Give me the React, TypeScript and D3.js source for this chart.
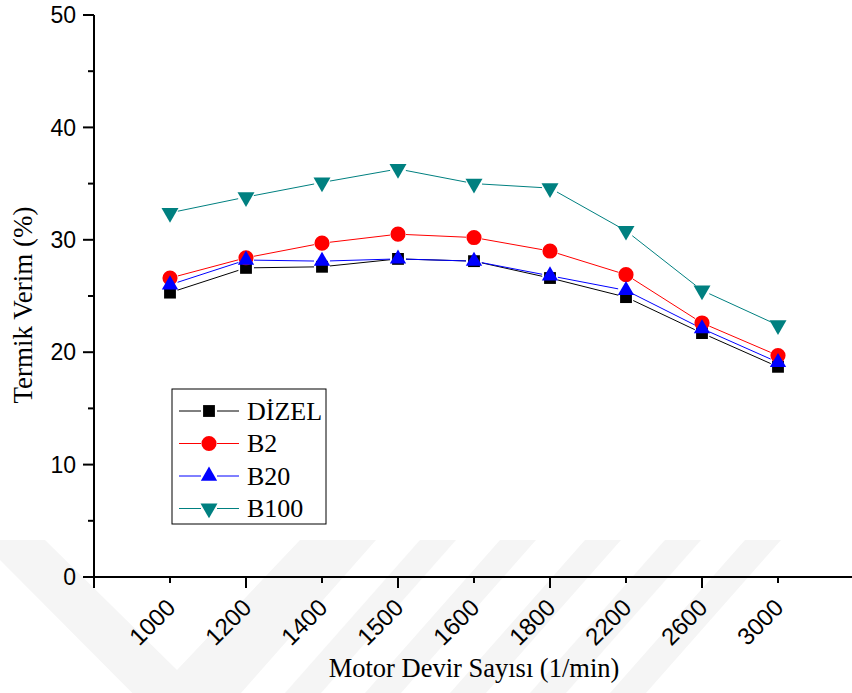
import React from "react";
import { scaleLinear, symbol, symbolSquare, symbolCircle, symbolTriangle, range } from "d3";

// engine speeds (x categories) and thermal efficiency (%) per fuel
const categories = ["1000", "1200", "1400", "1500", "1600", "1800", "2200", "2600", "3000"];
const dizel = [25.3, 27.5, 27.6, 28.3, 28.1, 26.6, 24.9, 21.7, 18.7];
const b2 = [26.6, 28.4, 29.7, 30.5, 30.2, 29.0, 26.9, 22.6, 19.7];
const b20 = [26.0, 28.2, 28.1, 28.3, 28.1, 26.8, 25.5, 22.1, 19.1];
const b100 = [32.4, 33.8, 35.1, 36.3, 35.0, 34.6, 30.8, 25.5, 22.4];
const yTicks = [0, 10, 20, 30, 40, 50];

const seriesNames = ["DİZEL", "B2", "B20", "B100"];
const seriesValues = [dizel, b2, b20, b100];
const seriesColors = ["#000000", "#ff0000", "#0000ff", "#008080"];

const width = 852,
  height = 693;
const serif = "'Liberation Serif', 'Times New Roman', serif";
const sans = "'Liberation Sans', Arial, sans-serif";

// symbol generator per series
const markers = [
  { type: symbolSquare, size: 140, rotate: 0 },
  { type: symbolCircle, size: 180, rotate: 0 },
  { type: symbolTriangle, size: 115, rotate: 0 },
  { type: symbolTriangle, size: 125, rotate: 180 }
];

function Marker({ i, x, y }: { i: number; x: number; y: number }) {
  const m = markers[i];
  const d = symbol(m.type, m.size)() || "";
  return (
    <path
      d={d}
      fill={seriesColors[i]}
      transform={`translate(${x},${y}) rotate(${m.rotate})`}
    />
  );
}

// line with small gaps at the markers, like Origin draws it
function gappedSegments(pts: [number, number][], gap: number) {
  const segs: [number, number, number, number][] = [];
  for (let k = 0; k < pts.length - 1; k++) {
    const [x1, y1] = pts[k];
    const [x2, y2] = pts[k + 1];
    const len = Math.hypot(x2 - x1, y2 - y1);
    if (len <= gap * 2) continue;
    const ux = (x2 - x1) / len,
      uy = (y2 - y1) / len;
    segs.push([x1 + ux * gap, y1 + uy * gap, x2 - ux * gap, y2 - uy * gap]);
  }
  return segs;
}

function Watermark() {
  const fill = "#f5f5f5";
  const stripes = [340, 420, 500, 585, 665, 745];
  return (
    <g>
      <polygon
        points="0,540 45,540 177,670 300,540 350,540 177,738 0,560"
        fill={fill}
      />
      {stripes.map(s => (
        <polygon
          key={s}
          points={`${s},540 ${s + 36},540 ${s + 36 - 135},693 ${s - 135},693`}
          fill={fill}
        />
      ))}
    </g>
  );
}

export default function App() {
  const x = scaleLinear().domain([0, 10]).range([94, 854]);
  const y = scaleLinear().domain([0, 50]).range([577, 15]);

  const legend = { x: 172, y: 389, w: 154, h: 135, row0: 411, step: 32.5 };

  return (
    <svg
      width={width}
      height={height}
      style={{ position: "absolute", left: 0, top: 0, background: "#fff" }}
    >
      <Watermark />

      {/* series lines */}
      {seriesValues.map((vals, i) => {
        const pts = vals.map((v, k) => [x(k + 1), y(v)] as [number, number]);
        return (
          <g key={seriesNames[i]}>
            {gappedSegments(pts, 8).map((s, k) => (
              <line
                key={k}
                x1={s[0]}
                y1={s[1]}
                x2={s[2]}
                y2={s[3]}
                stroke={seriesColors[i]}
                strokeWidth={1}
              />
            ))}
          </g>
        );
      })}

      {/* markers */}
      {seriesValues.map((vals, i) => (
        <g key={"m" + i}>
          {vals.map((v, k) => (
            <Marker key={k} i={i} x={x(k + 1)} y={y(v)} />
          ))}
        </g>
      ))}

      {/* y axis */}
      <line x1={x(0)} x2={x(0)} y1={y(50)} y2={y(0)} stroke="#000" strokeWidth={2} />
      {range(0, 51, 5).map(t => (
        <line
          key={"yt" + t}
          x1={x(0)}
          x2={x(0) - (t % 10 === 0 ? 11 : 6)}
          y1={y(t)}
          y2={y(t)}
          stroke="#000"
          strokeWidth={2}
        />
      ))}
      {yTicks.map(t => (
        <text
          key={"yl" + t}
          x={76}
          y={y(t)}
          dy="0.36em"
          textAnchor="end"
          fontFamily={sans}
          fontSize={23}
        >
          {t}
        </text>
      ))}

      {/* x axis */}
      <line x1={x(0) - 1} x2={x(10)} y1={y(0)} y2={y(0)} stroke="#000" strokeWidth={2} />
      {range(0, 11).map(t => (
        <line
          key={"xt" + t}
          x1={x(t)}
          x2={x(t)}
          y1={y(0)}
          y2={y(0) + (t % 2 === 0 ? 11 : 6)}
          stroke="#000"
          strokeWidth={2}
        />
      ))}
      {categories.map((c, k) => (
        <text
          key={"xl" + c}
          transform={`translate(${x(k + 1) + 7},${609}) rotate(-45)`}
          textAnchor="end"
          fontFamily={sans}
          fontSize={24}
        >
          {c}
        </text>
      ))}

      {/* axis titles */}
      <text
        transform={`translate(32,305) rotate(-90)`}
        textAnchor="middle"
        fontFamily={serif}
        fontSize={27}
      >
        Termik Verim (%)
      </text>
      <text x={474} y={677} textAnchor="middle" fontFamily={serif} fontSize={26.5}>
        Motor Devir Sayısı (1/min)
      </text>

      {/* legend */}
      <rect
        x={legend.x}
        y={legend.y}
        width={legend.w}
        height={legend.h}
        fill="#fff"
        stroke="#000"
        strokeWidth={1}
      />
      {seriesNames.map((name, i) => {
        const cy = legend.row0 + i * legend.step;
        return (
          <g key={"lg" + name}>
            <line x1={179} x2={201} y1={cy} y2={cy} stroke={seriesColors[i]} strokeWidth={1} />
            <line x1={217} x2={239} y1={cy} y2={cy} stroke={seriesColors[i]} strokeWidth={1} />
            <Marker i={i} x={209} y={cy} />
            <text x={247} y={cy} dy="0.34em" fontFamily={serif} fontSize={26}>
              {name}
            </text>
          </g>
        );
      })}
    </svg>
  );
}
